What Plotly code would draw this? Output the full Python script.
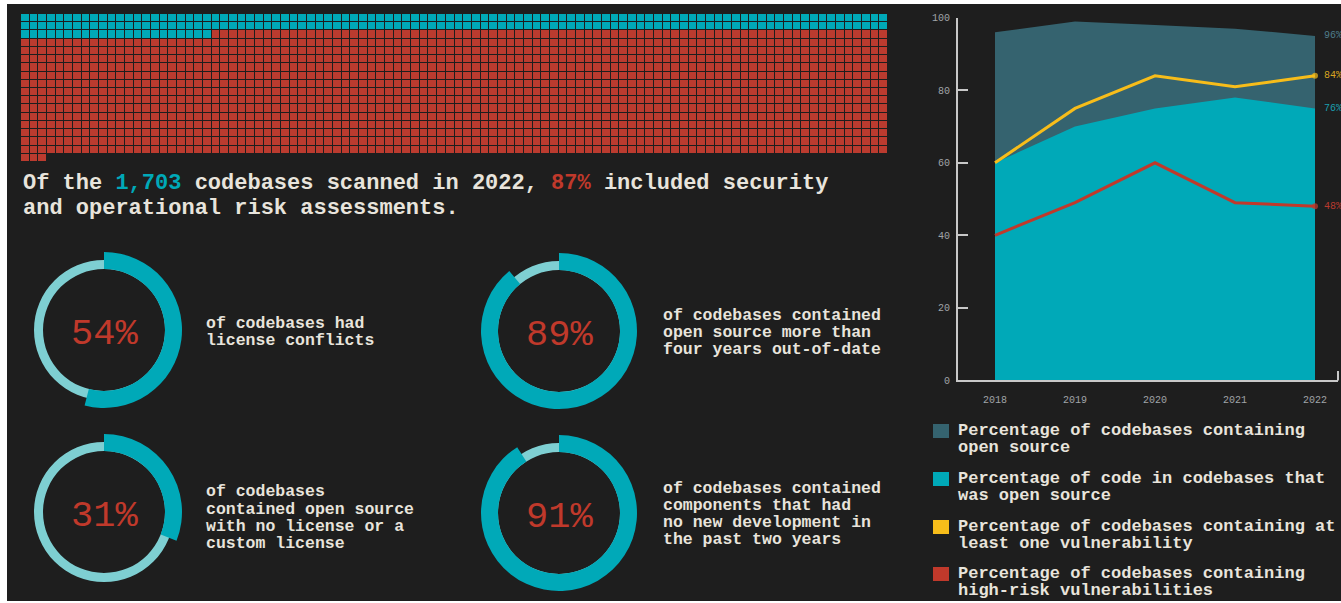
import plotly.graph_objects as go

W, H = 1341, 603

# ---------------- data ----------------
total_codebases = 1703
not_assessed = 222           # cyan cells (13%)
waffle_cols = 100

years = [2018, 2019, 2020, 2021, 2022]
pct_codebases_open_source = [96, 99, 98, 97, 95]
pct_code_open_source = [60, 70, 75, 78, 75]
pct_at_least_one_vuln = [60, 75, 84, 81, 84]
pct_high_risk_vuln = [40, 49, 60, 49, 48]
end_labels = ["96%", "76%", "84%", "48%"]

donut_values = [54, 89, 31, 91]
donut_texts = [
    ["of codebases had", "license conflicts"],
    ["of codebases contained", "open source more than", "four years out-of-date"],
    ["of codebases", "contained open source", "with no license or a", "custom license"],
    ["of codebases contained", "components that had", "no new development in", "the past two years"],
]
legend_labels = [
    ["Percentage of codebases containing", "open source"],
    ["Percentage of code in codebases that", "was open source"],
    ["Percentage of codebases containing at", "least one vulnerability"],
    ["Percentage of codebases containing", "high-risk vulnerabilities"],
]

# ---------------- styles ----------------
BG = "#1e1e1e"
DARK_TEAL = "#35636f"
CYAN = "#00a9b8"
LIGHT_CYAN = "#7ecfd2"
YELLOW = "#f7bd1a"
RED = "#c0392b"
WAFFLE_RED = "#bb3b2f"
TEXT = "#e8e4dc"
AXIS = "#c8c8c8"
TICKTXT = "#a0a4a8"
MONO = "Liberation Mono"


def px(x):
    return x / W


def py(y):
    return 1 - y / H


fig = go.Figure()

# ---------------- waffle ----------------
rows = (total_codebases + waffle_cols - 1) // waffle_cols
z = []
for r in range(rows):
    row = []
    for c in range(waffle_cols):
        i = r * waffle_cols + c
        if i < not_assessed:
            row.append(0)
        elif i < total_codebases:
            row.append(1)
        else:
            row.append(None)
    z.append(row)

fig.add_trace(go.Heatmap(
    z=z, xaxis="x2", yaxis="y2", zmin=0, zmax=1,
    colorscale=[[0, CYAN], [0.5, CYAN], [0.5, WAFFLE_RED], [1, WAFFLE_RED]],
    showscale=False, xgap=1, ygap=1, hoverinfo="skip",
))

# ---------------- area / line chart ----------------
fig.add_trace(go.Scatter(
    x=years, y=pct_codebases_open_source, mode="lines", fill="tozeroy",
    fillcolor=DARK_TEAL, line=dict(width=0, color=DARK_TEAL), hoverinfo="skip",
))
fig.add_trace(go.Scatter(
    x=years, y=pct_code_open_source, mode="lines", fill="tozeroy",
    fillcolor=CYAN, line=dict(width=0, color=CYAN), hoverinfo="skip",
))
fig.add_trace(go.Scatter(
    x=years, y=pct_at_least_one_vuln, mode="lines+markers",
    line=dict(width=3, color=YELLOW),
    marker=dict(size=[0, 0, 0, 0, 6], color=YELLOW, line=dict(width=0)), hoverinfo="skip",
))
fig.add_trace(go.Scatter(
    x=years, y=pct_high_risk_vuln, mode="lines+markers",
    line=dict(width=3, color=RED),
    marker=dict(size=[0, 0, 0, 0, 6], color=RED, line=dict(width=0)), hoverinfo="skip",
))

annotations = []
shapes = []

end_series = [pct_codebases_open_source, pct_code_open_source, pct_at_least_one_vuln, pct_high_risk_vuln]
end_colors = ["#4e7c8a", "#1a9fae", "#d9a520", "#b83a2e"]
for lab, ser, col in zip(end_labels, end_series, end_colors):
    annotations.append(dict(
        x=years[-1], y=ser[-1], xref="x", yref="y", text=lab, showarrow=False,
        xanchor="left", yanchor="middle", xshift=7,
        font=dict(family=MONO, size=10, color=col),
    ))

# ---------------- donuts ----------------
donut_centers = [(104, 330), (559, 331), (104, 512), (559, 513)]
text_x = [204, 661, 204, 661]
text_y0 = [323, 315, 492, 488]
R_THIN, R_THICK, R_IN = 70, 78, 61

for v, (cx, cy) in zip(donut_values, donut_centers):
    fig.add_trace(go.Pie(
        values=[100], marker=dict(colors=[LIGHT_CYAN], line=dict(width=0)),
        hole=R_IN / R_THIN, textinfo="none", hoverinfo="skip", sort=False,
        domain=dict(x=[px(cx - R_THIN), px(cx + R_THIN)], y=[py(cy + R_THIN), py(cy - R_THIN)]),
        showlegend=False,
    ))
    fig.add_trace(go.Pie(
        values=[v, 100 - v],
        marker=dict(colors=[CYAN, "rgba(0,0,0,0)"], line=dict(width=0)),
        hole=R_IN / R_THICK, textinfo="none", hoverinfo="skip", sort=False,
        direction="clockwise", rotation=0,
        domain=dict(x=[px(cx - R_THICK), px(cx + R_THICK)], y=[py(cy + R_THICK), py(cy - R_THICK)]),
        showlegend=False,
    ))
    annotations.append(dict(
        x=px(cx), y=py(cy + 4), xref="paper", yref="paper", text=f"{v}%",
        showarrow=False, xanchor="center", yanchor="middle",
        font=dict(family=MONO, size=37, color=RED),
    ))

for lines, tx, ty in zip(donut_texts, text_x, text_y0):
    for k, line in enumerate(lines):
        annotations.append(dict(
            x=px(tx), y=py(ty + 17.3 * k), xref="paper", yref="paper",
            text=f"<b>{line}</b>", showarrow=False, xanchor="left", yanchor="middle",
            font=dict(family=MONO, size=16.5, color=TEXT),
        ))

# ---------------- headline ----------------
headline = [
    f"<b>Of the <span style='color:{CYAN}'>1,703</span> codebases scanned in 2022, "
    f"<span style='color:{RED}'>87%</span> included security</b>",
    "<b>and operational risk assessments.</b>",
]
for k, line in enumerate(headline):
    annotations.append(dict(
        x=px(21), y=py(183 + 25 * k), xref="paper", yref="paper", text=line,
        showarrow=False, xanchor="left", yanchor="middle",
        font=dict(family=MONO, size=22, color=TEXT),
    ))

# ---------------- legend ----------------
legend_colors = [DARK_TEAL, CYAN, YELLOW, RED]
legend_y = [430, 478, 526, 573]
for lines, col, ly in zip(legend_labels, legend_colors, legend_y):
    shapes.append(dict(
        type="rect", xref="paper", yref="paper",
        x0=px(933), x1=px(949), y0=py(ly + 8), y1=py(ly - 6),
        fillcolor=col, line=dict(width=0),
    ))
    for k, line in enumerate(lines):
        annotations.append(dict(
            x=px(956), y=py(ly + 17 * k), xref="paper", yref="paper",
            text=f"<b>{line}</b>", showarrow=False, xanchor="left", yanchor="middle",
            font=dict(family=MONO, size=17, color=TEXT),
        ))

# axis end bracket
shapes.append(dict(type="line", xref="paper", yref="paper",
                   x0=px(1338), x1=px(1338), y0=py(380.5), y1=py(371),
                   line=dict(color=AXIS, width=2)))

# white page borders
for x0, x1, y0, y1 in [(0, 7, 0, H), (0, W, 0, 4), (0, W, 601, H)]:
    shapes.append(dict(type="rect", xref="paper", yref="paper", layer="above",
                       x0=px(x0), x1=px(x1), y0=py(y1), y1=py(y0),
                       fillcolor="white", line=dict(width=0)))

x_left, x_right = 958, 1338
x0_val = 2018 - (995 - x_left) / 80
x1_val = 2022 + (x_right - 1315) / 80

fig.update_layout(
    width=W, height=H, autosize=False,
    margin=dict(l=0, r=0, t=0, b=0, pad=0),
    paper_bgcolor=BG, plot_bgcolor="rgba(0,0,0,0)",
    showlegend=False, template="none",
    xaxis=dict(
        domain=[px(x_left), px(x_right)], range=[x0_val, x1_val],
        tickvals=years, ticktext=[str(y) for y in years],
        showgrid=False, zeroline=False, showline=True, linecolor=AXIS, linewidth=2,
        ticks="", ticklabelstandoff=9,
        tickfont=dict(family=MONO, size=10, color=TICKTXT), fixedrange=True,
    ),
    yaxis=dict(
        domain=[py(380.3), py(17.8)], range=[0, 100],
        tickvals=[0, 20, 40, 60, 80, 100],
        showgrid=False, zeroline=False, showline=True, linecolor=AXIS, linewidth=2,
        ticks="inside", ticklen=10, tickwidth=2, tickcolor=AXIS, ticklabelstandoff=4,
        tickfont=dict(family=MONO, size=10, color=TICKTXT), fixedrange=True,
    ),
    xaxis2=dict(domain=[px(21), px(888)], range=[-0.5, waffle_cols - 0.5],
                visible=False, anchor="y2", fixedrange=True),
    yaxis2=dict(domain=[py(162), py(14)], range=[rows - 0.5, -0.5],
                visible=False, anchor="x2", fixedrange=True),
    annotations=annotations, shapes=shapes,
)

fig.write_html("out.html")
